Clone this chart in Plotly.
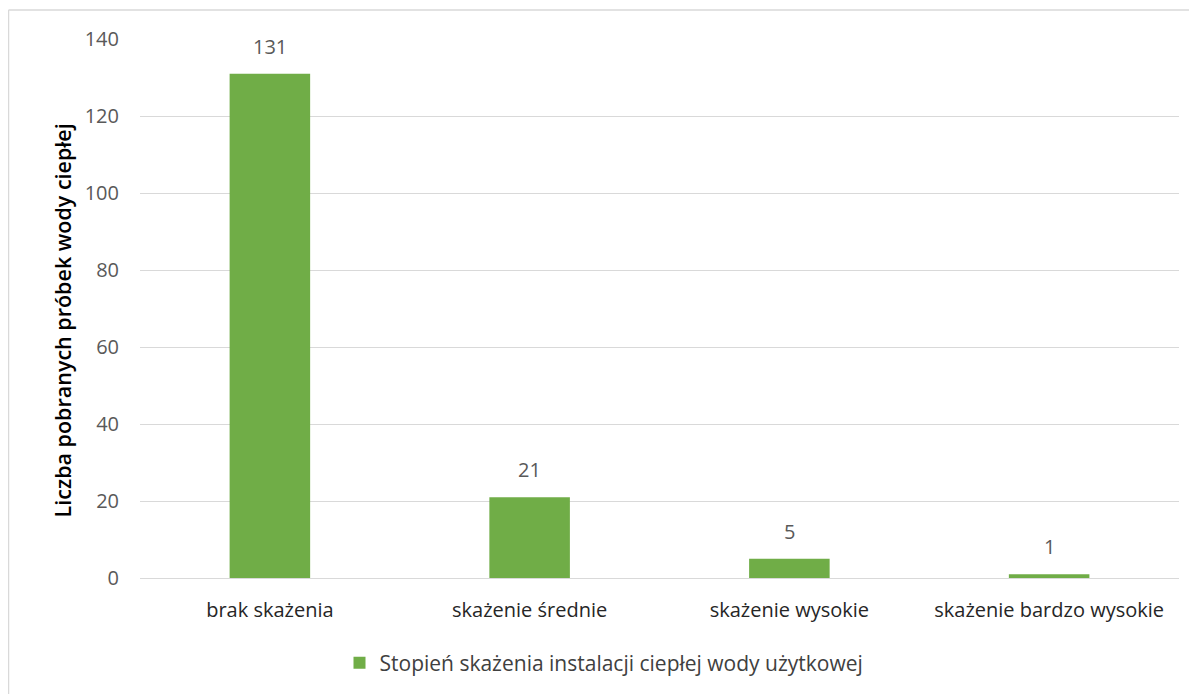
import plotly.graph_objects as go

categories = ["brak skażenia", "skażenie średnie", "skażenie wysokie", "skażenie bardzo wysokie"]
values = [131, 21, 5, 1]
series_name = "Stopień skażenia instalacji ciepłej wody użytkowej"
y_title = "Liczba pobranych próbek wody ciepłej"
tick_vals = [0, 20, 40, 60, 80, 100, 120, 140]

FONT = "'Open Sans', sans-serif"
GREEN = "#70AD47"

fig = go.Figure()
fig.add_trace(go.Bar(
    x=categories, y=values, name=series_name,
    marker=dict(color=GREEN, line=dict(width=0)),
))
for c, v in zip(categories, values):
    fig.add_annotation(x=c, y=v, text=str(v), showarrow=False, yanchor="bottom", yshift=12,
                       font=dict(family=FONT, size=20, color="#595959"))

# page has 8px body offset
W, H = 1189, 686
L, T = 132, 31
R = W - 1171
B = H - 571
pw, ph = W - L - R, H - T - B

fig.update_layout(
    width=W, height=H,
    margin=dict(l=L, r=R, t=T, b=B),
    paper_bgcolor="white", plot_bgcolor="white",
    bargap=0.69,
    showlegend=True,
    legend=dict(orientation="h", x=(596 - L) / pw, xanchor="center", y=-(655 - 571) / ph, yanchor="middle",
                font=dict(family=FONT, size=21, color="#404040")),
    font=dict(family=FONT),
)
fig.update_yaxes(
    range=[0, 140], tickvals=tick_vals, showgrid=True, gridcolor="#D9D9D9", gridwidth=1,
    zeroline=False, showline=False, ticks="", ticklabelstandoff=20,
    tickfont=dict(family=FONT, size=20, color="#595959"),
)
fig.update_xaxes(
    showline=True, linecolor="#D9D9D9", ticks="", ticklabelstandoff=14,
    tickfont=dict(family=FONT, size=20, color="#262626"),
)
fig.add_annotation(
    text=y_title, textangle=-90, xref="paper", yref="paper",
    x=(54 - L) / pw, y=(571 - 313) / ph,
    xanchor="center", yanchor="middle", showarrow=False,
    font=dict(family=FONT, size=21.5, color="#000000", weight=600),
)
fig.add_shape(
    type="line", xref="paper", yref="paper",
    x0=(0.5 - L) / pw, x1=(0.5 - L) / pw, y0=-(700 - 571) / ph, y1=1 + (T - 2) / ph,
    line=dict(color="#D9D9D9", width=1.5), layer="below",
)
fig.add_shape(
    type="line", xref="paper", yref="paper",
    x0=(0.5 - L) / pw, x1=(1189 - L) / pw, y0=1 + (T - 2) / ph, y1=1 + (T - 2) / ph,
    line=dict(color="#D9D9D9", width=1.5), layer="below",
)
fig.write_html("out.html")
